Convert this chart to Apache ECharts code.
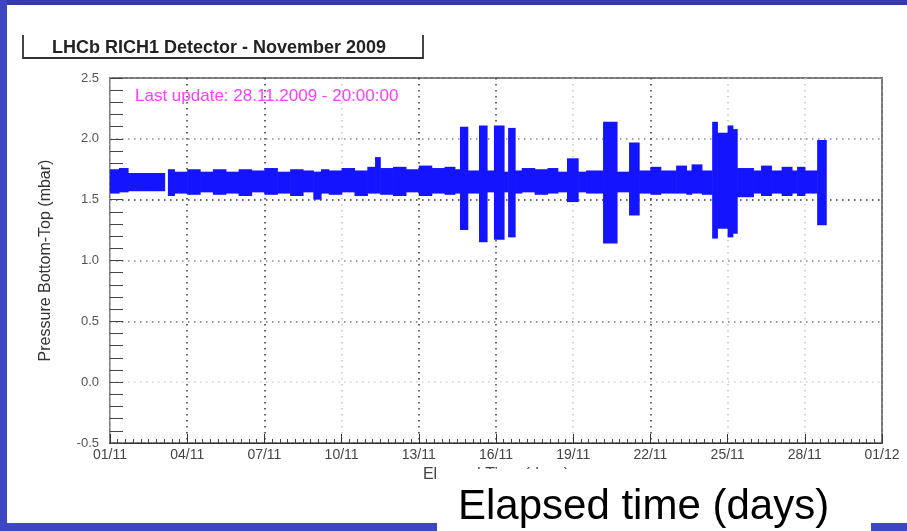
<!DOCTYPE html>
<html>
<head>
<meta charset="utf-8">
<script src="https://cdn.jsdelivr.net/npm/echarts@6/dist/echarts.min.js"></script>
<style>
html,body{margin:0;padding:0;background:#fff;}
#chart{width:907px;height:531px;}
</style>
</head>
<body>
<div id="chart"></div>
<script>
// Tick labels of the time axis (every 3 days from 01/11)
const xTickLabels = ['01/11','04/11','07/11','10/11','13/11','16/11','19/11','22/11','25/11','28/11','01/12'];
const yTickValues = [-0.5, 0.0, 0.5, 1.0, 1.5, 2.0, 2.5];

// Pressure band: segment start (days since 01/11 00:00), band low and high (mbar)
const segStart = [0.0, 0.35, 0.7, 2.12, 2.25, 2.5, 3.0, 3.5, 4.0, 4.5, 5.0, 5.5, 6.0, 6.5, 7.0, 7.5, 7.9, 8.2, 8.5, 9.0, 9.5, 10.0, 10.3, 10.5, 11.0, 11.5, 12.0, 12.5, 13.0, 13.4, 13.6, 13.9, 14.34, 14.65, 14.92, 15.31, 15.47, 15.74, 16.0, 16.5, 17.0, 17.4, 17.76, 18.19, 18.5, 19.16, 19.70, 20.17, 20.56, 21.0, 21.4, 22.0, 22.4, 22.6, 23.0, 23.4, 23.6, 24.0, 24.2, 24.37, 25.0, 25.3, 25.7, 26.1, 26.5, 26.7, 27.0, 27.48];
const segLow   = [1.55, 1.56, 1.57, null, 1.53, 1.55, 1.54, 1.56, 1.54, 1.55, 1.53, 1.56, 1.54, 1.55, 1.53, 1.56, 1.50, 1.55, 1.54, 1.56, 1.53, 1.55, 1.55, 1.54, 1.53, 1.56, 1.53, 1.55, 1.54, 1.55, 1.25, 1.55, 1.15, 1.56, 1.17, 1.56, 1.19, 1.55, 1.56, 1.54, 1.55, 1.56, 1.48, 1.56, 1.55, 1.14, 1.56, 1.37, 1.55, 1.54, 1.55, 1.55, 1.54, 1.55, 1.54, 1.18, 1.26, 1.19, 1.22, 1.52, 1.55, 1.53, 1.55, 1.53, 1.55, 1.53, 1.55, 1.29];
const segHigh  = [1.75, 1.76, 1.72, null, 1.75, 1.73, 1.75, 1.73, 1.75, 1.73, 1.75, 1.74, 1.76, 1.73, 1.75, 1.74, 1.73, 1.75, 1.74, 1.76, 1.74, 1.77, 1.85, 1.76, 1.77, 1.75, 1.78, 1.76, 1.77, 1.75, 2.10, 1.74, 2.11, 1.74, 2.11, 1.73, 2.09, 1.74, 1.76, 1.75, 1.76, 1.73, 1.84, 1.73, 1.74, 2.14, 1.73, 1.97, 1.74, 1.77, 1.74, 1.78, 1.74, 1.79, 1.74, 2.14, 2.05, 2.11, 2.08, 1.76, 1.74, 1.78, 1.74, 1.77, 1.74, 1.77, 1.74, 1.99];
const lastDay = 27.83;

const bandData = [];
for (let i = 0; i < segStart.length; i++) {
  if (segLow[i] == null) continue;
  const end = i + 1 < segStart.length ? segStart[i + 1] : lastDay;
  bandData.push([segStart[i], end, segLow[i], segHigh[i]]);
}

const chart = echarts.init(document.getElementById('chart'), null, {renderer: 'canvas'});
const FONT = '"Liberation Sans", Arial, sans-serif';

const option = {
  backgroundColor: '#ffffff',
  animation: false,
  grid: {left: 110, right: 25, top: 78, bottom: 88, show: true, borderColor: '#777', borderWidth: 2, backgroundColor: 'transparent'},
  xAxis: {
    type: 'value', min: 0, max: 30, interval: 3,
    name: 'Elapsed Time (days)', nameLocation: 'middle', nameGap: 24,
    nameTextStyle: {fontFamily: FONT, fontSize: 16, color: '#444'},
    axisLine: {show: true, onZero: false, lineStyle: {color: '#333', width: 1}},
    axisTick: {show: true, inside: true, length: 9, lineStyle: {color: '#333'}},
    minorTick: {show: true, splitNumber: 10, length: 4, lineStyle: {color: '#444'}},
    axisLabel: {fontFamily: FONT, fontSize: 14, color: '#444', margin: 5,
      formatter: v => xTickLabels[Math.round(v / 3)] || ''},
    splitLine: {show: true, lineStyle: {type: [1.5, 4.5], width: 1.5,
      color: ['#999','#333','#333','#c4c4c4','#333','#333','#c4c4c4','#333','#c4c4c4','#c4c4c4','#999']}},
    minorSplitLine: {show: false}
  },
  yAxis: {
    type: 'value', min: -0.5, max: 2.5, interval: 0.5,
    name: 'Pressure Bottom-Top (mbar)', nameLocation: 'middle', nameGap: 56, nameRotate: 90,
    nameTextStyle: {fontFamily: FONT, fontSize: 16, color: '#333'},
    axisLine: {show: true, onZero: false, lineStyle: {color: '#bbb', width: 1}},
    axisTick: {show: true, inside: true, length: 13, lineStyle: {color: '#444'}},
    minorTick: {show: true, splitNumber: 5, length: 13, lineStyle: {color: '#444'}},
    axisLabel: {fontFamily: FONT, fontSize: 13, color: '#555', margin: 11,
      formatter: v => yTickValues.includes(v) ? v.toFixed(1) : ''},
    splitLine: {show: true, lineStyle: {type: [1.5, 4.5], width: 1.5,
      color: ['#999','#cfcfcf','#777','#888','#333','#888','#999']}}
  },
  series: [{
    type: 'custom',
    data: bandData,
    encode: {x: [0, 1], y: [2, 3]},
    clip: true,
    renderItem: function (params, api) {
      const p0 = api.coord([api.value(0), api.value(3)]);
      const p1 = api.coord([api.value(1), api.value(2)]);
      return {type: 'rect', shape: {x: p0[0], y: p0[1], width: p1[0] - p0[0] + 0.6, height: p1[1] - p0[1]},
        style: {fill: '#1414ff'}};
    }
  }],
  graphic: [
    // title box (open top)
    {type: 'polyline', z: 10, shape: {points: [[23, 35], [23, 58], [423, 58], [423, 35]]},
      style: {stroke: '#333', lineWidth: 1.8, fill: null}},
    {type: 'text', z: 10, left: 52, top: 39,
      style: {text: 'LHCb RICH1 Detector - November 2009', font: 'bold 18px ' + FONT, fill: '#222'}},
    {type: 'text', z: 10, left: 135, top: 88,
      style: {text: 'Last update: 28.11.2009 - 20:00:00', font: '17px ' + FONT, fill: '#ff3cff'}},
    // white box covering axis title on the slide
    {type: 'rect', z: 20, shape: {x: 437, y: 469, width: 434, height: 62}, style: {fill: '#ffffff'}},
    {type: 'text', z: 21, left: 458, top: 486,
      style: {text: 'Elapsed time (days)', font: '42px ' + FONT, fill: '#000'}},
    // slide borders
    {type: 'rect', z: 30, shape: {x: 0, y: 0, width: 907, height: 5}, style: {fill: '#343aa8'}},
    {type: 'rect', z: 30, shape: {x: 0, y: 0, width: 7, height: 531}, style: {fill: '#3e47c3'}},
    {type: 'rect', z: 30, shape: {x: 0, y: 523, width: 437, height: 8}, style: {fill: '#3e47c3'}},
    {type: 'rect', z: 30, shape: {x: 871, y: 523, width: 36, height: 8}, style: {fill: '#3e47c3'}}
  ]
};
chart.setOption(option);
</script>
</body>
</html>
